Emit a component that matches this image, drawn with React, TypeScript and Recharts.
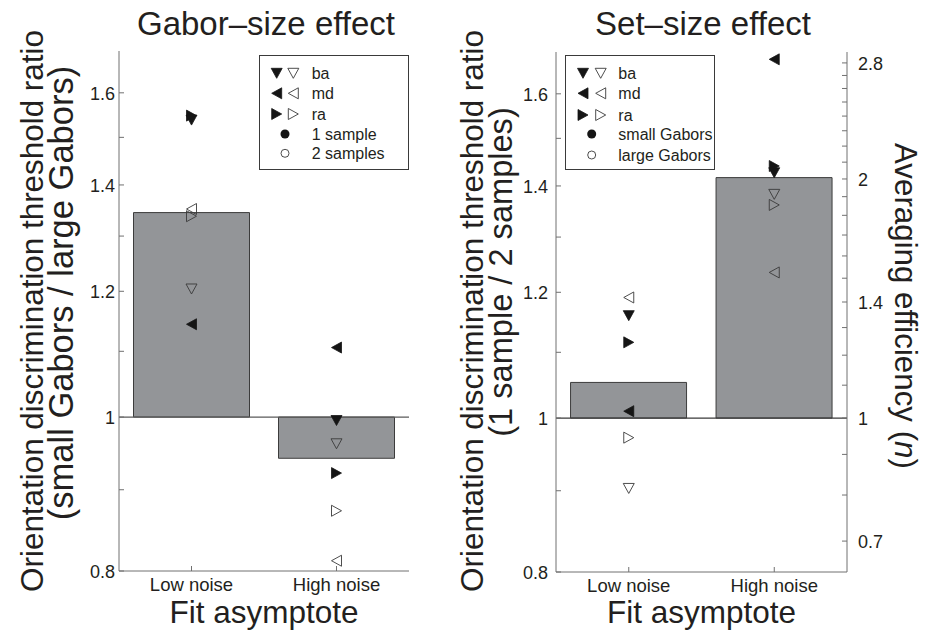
import React from 'react';
import { ComposedChart, Bar, Scatter, XAxis, YAxis, ReferenceLine, Legend } from 'recharts';

// ---------- data ----------
const categories = ['Low noise', 'High noise'];

// Gabor-size effect (ratio small / large Gabors); filled = 1 sample, open = 2 samples
const gaborBar = [1.345, 0.942];
const gaborBaFilled = [1.538, 0.995];
const gaborBaOpen = [1.204, 0.962];
const gaborMdFilled = [1.144, 1.106];
const gaborMdOpen = [1.352, 0.812];
const gaborRaFilled = [1.548, 0.922];
const gaborRaOpen = [1.338, 0.873];

// Set-size effect (ratio 1 sample / 2 samples); filled = small Gabors, open = large Gabors
const setBar = [1.053, 1.417];
const setBaFilled = [1.16, 1.427];
const setBaOpen = [0.903, 1.383];
const setMdFilled = [1.01, 1.682];
const setMdOpen = [1.191, 1.235];
const setRaFilled = [1.116, 1.441];
const setRaOpen = [0.972, 1.362];

const ratioTicks = [0.8, 0.9, 1, 1.1, 1.2, 1.3, 1.4, 1.5, 1.6];
const ratioLabels = [0.8, 1, 1.2, 1.4, 1.6];
const ratioDomain = [0.8, 1.7];
const effTicks = [0.7, 0.8, 0.9, 1, 1.1, 1.2, 1.3, 1.4, 1.5, 1.6, 1.7, 1.8, 1.9, 2, 2.1, 2.2, 2.3, 2.4, 2.5, 2.6, 2.7, 2.8];
const effLabels = [0.7, 1, 1.4, 2, 2.8];
const effDomain = [0.64, 2.89];

const gaborLegendLabels = ['ba', 'md', 'ra', '1 sample', '2 samples'];
const setLegendLabels = ['ba', 'md', 'ra', 'small Gabors', 'large Gabors'];

// ---------- style ----------
const AXIS = '#707070';
const INK = '#231f20';
const BAR_FILL = '#939598';
const BAR_STROKE = '#3c3c3c';
const FONT = '"Liberation Sans", Arial, Helvetica, sans-serif';

function buildRows(bar: number[], baF: number[], baO: number[], mdF: number[], mdO: number[], raF: number[], raO: number[]) {
  return categories.map((cat, i) => ({
    cat,
    bar: [Math.min(1, bar[i]), Math.max(1, bar[i])],
    baF: baF[i],
    baO: baO[i],
    mdF: mdF[i],
    mdO: mdO[i],
    raF: raF[i],
    raO: raO[i],
  }));
}

const gaborRows = buildRows(gaborBar, gaborBaFilled, gaborBaOpen, gaborMdFilled, gaborMdOpen, gaborRaFilled, gaborRaOpen);
const setRows = buildRows(setBar, setBaFilled, setBaOpen, setMdFilled, setMdOpen, setRaFilled, setRaOpen);

type Dir = 'down' | 'left' | 'right';

function Tri({ cx, cy, dir, filled }: { cx: number; cy: number; dir: Dir; filled: boolean }) {
  if (cx == null || cy == null || isNaN(cx) || isNaN(cy)) return null;
  const a = 5.5;
  const b = 5;
  let pts: number[][];
  if (dir === 'down') pts = [[cx - a, cy - b], [cx + a, cy - b], [cx, cy + b]];
  else if (dir === 'left') pts = [[cx - b, cy], [cx + b, cy - a], [cx + b, cy + a]];
  else pts = [[cx + b, cy], [cx - b, cy - a], [cx - b, cy + a]];
  return (
    <polygon
      points={pts.map((p) => p.join(',')).join(' ')}
      fill={filled ? '#151515' : 'none'}
      stroke={filled ? '#151515' : '#3a3a3a'}
      strokeWidth={filled ? 0.8 : 0.9}
    />
  );
}

const shapeOf = (dir: Dir, filled: boolean) => (p: any) => <Tri cx={p.cx} cy={p.cy} dir={dir} filled={filled} />;

function RatioTick(props: any) {
  const { x, y, payload, gap } = props;
  const v = payload.value;
  const major = ratioLabels.includes(v);
  return (
    <g>
      <line x1={x} x2={x + 5} y1={y} y2={y} stroke={AXIS} strokeWidth={1} />
      {major && (
        <text x={x - gap} y={y + 7} textAnchor="end" fontSize={18} fill={INK} fontFamily={FONT}>
          {String(v)}
        </text>
      )}
    </g>
  );
}

function EffTick(props: any) {
  const { x, y, payload } = props;
  const v = payload.value;
  const major = effLabels.includes(v);
  return (
    <g>
      <line x1={x} x2={x - 5} y1={y} y2={y} stroke={AXIS} strokeWidth={1} />
      {major && (
        <text x={x + 11} y={y + 7} textAnchor="start" fontSize={18} fill={INK} fontFamily={FONT}>
          {String(v)}
        </text>
      )}
    </g>
  );
}

function XTick(props: any) {
  const { x, y, payload } = props;
  return (
    <g>
      <line x1={x} x2={x} y1={y} y2={y - 5} stroke={AXIS} strokeWidth={1} />
      <text x={x} y={y + 19.5} textAnchor="middle" fontSize={18.5} fill={INK} fontFamily={FONT}>
        {payload.value}
      </text>
    </g>
  );
}

function LegendBox({ labels, width, height, rows, fx, ox, tx, cx }: { labels: string[]; width: number; height: number; rows: number[]; fx: number; ox: number; tx: number; cx: number }) {
  const dirs: Dir[] = ['down', 'left', 'right'];
  return (
    <svg width={width} height={height} style={{ display: 'block' }}>
      <rect x={0.5} y={0.5} width={width - 1} height={height - 1} fill="#ffffff" stroke="#3a3a3a" strokeWidth={1} />
      {dirs.map((d, i) => (
        <g key={d}>
          <Tri cx={fx} cy={rows[i]} dir={d} filled={true} />
          <Tri cx={ox} cy={rows[i]} dir={d} filled={false} />
        </g>
      ))}
      <circle cx={cx} cy={rows[3]} r={4.5} fill="#151515" />
      <circle cx={cx} cy={rows[4]} r={4} fill="none" stroke="#3a3a3a" strokeWidth={0.9} />
      {labels.map((l, i) => (
        <text key={l} x={tx} y={rows[i] + 6} fontSize={16} fill={INK} fontFamily={FONT}>
          {l}
        </text>
      ))}
    </svg>
  );
}

function scatterSet(yAxisId: string) {
  return [
    <Scatter key="baO" yAxisId={yAxisId} dataKey="baO" shape={shapeOf('down', false)} isAnimationActive={false} />,
    <Scatter key="mdO" yAxisId={yAxisId} dataKey="mdO" shape={shapeOf('left', false)} isAnimationActive={false} />,
    <Scatter key="raO" yAxisId={yAxisId} dataKey="raO" shape={shapeOf('right', false)} isAnimationActive={false} />,
    <Scatter key="baF" yAxisId={yAxisId} dataKey="baF" shape={shapeOf('down', true)} isAnimationActive={false} />,
    <Scatter key="mdF" yAxisId={yAxisId} dataKey="mdF" shape={shapeOf('left', true)} isAnimationActive={false} />,
    <Scatter key="raF" yAxisId={yAxisId} dataKey="raF" shape={shapeOf('right', true)} isAnimationActive={false} />,
  ];
}

export default function App() {
  return (
    <div style={{ position: 'absolute', left: 0, top: 0, width: 925, height: 633, background: '#ffffff', fontFamily: FONT }}>
      <div style={{ position: 'absolute', left: 0, top: 0 }}>
        <ComposedChart width={460} height={633} data={gaborRows} margin={{ top: 51, right: 51, bottom: 22, left: 0 }} barCategoryGap="10%">
          <XAxis dataKey="cat" type="category" height={40} tickSize={0} tickMargin={0} tickLine={false} tick={<XTick />} axisLine={{ stroke: AXIS }} interval={0} />
          <YAxis yAxisId="ratio" type="number" scale="log" domain={ratioDomain} allowDataOverflow ticks={ratioTicks} width={119} tickSize={0} tickMargin={0} tickLine={false} tick={<RatioTick gap={4} />} axisLine={{ stroke: AXIS }} interval={0} />
          <Bar yAxisId="ratio" dataKey="bar" fill={BAR_FILL} stroke={BAR_STROKE} strokeWidth={1} isAnimationActive={false} />
          <ReferenceLine yAxisId="ratio" y={1} stroke="#5a5a5a" strokeWidth={1.2} />
          {scatterSet('ratio')}
          <Legend
            verticalAlign="middle"
            align="center"
            layout="horizontal"
            wrapperStyle={{ left: 259, top: 55, width: 150, height: 115 }}
            content={() => <LegendBox labels={gaborLegendLabels} width={150} height={115} rows={[18.3, 38.3, 59, 79, 98.3]} fx={17.7} ox={34.3} tx={52.7} cx={26} />}
          />
        </ComposedChart>
      </div>
      <div style={{ position: 'absolute', left: 460, top: 0 }}>
        <ComposedChart width={465} height={633} data={setRows} margin={{ top: 52, right: 0, bottom: 21, left: 0 }} barCategoryGap="10%">
          <XAxis dataKey="cat" type="category" height={40} tickSize={0} tickMargin={0} tickLine={false} tick={<XTick />} axisLine={{ stroke: AXIS }} interval={0} />
          <YAxis yAxisId="ratio" type="number" scale="log" domain={ratioDomain} allowDataOverflow ticks={ratioTicks} width={96} tickSize={0} tickMargin={0} tickLine={false} tick={<RatioTick gap={8} />} axisLine={{ stroke: AXIS }} interval={0} />
          <YAxis yAxisId="eff" orientation="right" type="number" scale="log" domain={effDomain} allowDataOverflow ticks={effTicks} width={78} tickSize={0} tickMargin={0} tickLine={false} tick={<EffTick />} axisLine={{ stroke: AXIS }} interval={0} />
          <Bar yAxisId="ratio" dataKey="bar" fill={BAR_FILL} stroke={BAR_STROKE} strokeWidth={1} isAnimationActive={false} />
          <ReferenceLine yAxisId="ratio" y={1} stroke="#3a3a3a" strokeWidth={1.2} />
          {scatterSet('ratio')}
          <Legend
            verticalAlign="middle"
            align="center"
            layout="horizontal"
            wrapperStyle={{ left: 105, top: 55, width: 150, height: 115 }}
            content={() => <LegendBox labels={setLegendLabels} width={150} height={115} rows={[18.3, 38.3, 60, 79, 100]} fx={18} ox={35.7} tx={53.3} cx={26.7} />}
          />
        </ComposedChart>
      </div>
      <svg width={925} height={633} style={{ position: 'absolute', left: 0, top: 0, pointerEvents: 'none' }} fontFamily={FONT}>
        <text x={266} y={35} textAnchor="middle" fontSize={33} fill={INK}>Gabor–size effect</text>
        <text x={703} y={35} textAnchor="middle" fontSize={33} fill={INK}>Set–size effect</text>
        <text x={264} y={623} textAnchor="middle" fontSize={31.5} fill={INK}>Fit asymptote</text>
        <text x={701.5} y={623} textAnchor="middle" fontSize={31.5} fill={INK}>Fit asymptote</text>
        <text x={43} y={311} transform="rotate(-90 43 311)" textAnchor="middle" fontSize={31.4} fill={INK}>Orientation discrimination threshold ratio</text>
        <text x={73} y={293} transform="rotate(-90 73 293)" textAnchor="middle" fontSize={34.5} fill={INK}>(small Gabors / large Gabors)</text>
        <text x={483} y={311} transform="rotate(-90 483 311)" textAnchor="middle" fontSize={31.4} fill={INK}>Orientation discrimination threshold ratio</text>
        <text x={512} y={272} transform="rotate(-90 512 272)" textAnchor="middle" fontSize={32.6} fill={INK}>(1 sample / 2 samples)</text>
        <text x={895} y={306} transform="rotate(90 895 306)" textAnchor="middle" fontSize={31.3} fill={INK}>
          Averaging efficiency (<tspan fontStyle="italic">n</tspan>)
        </text>
      </svg>
    </div>
  );
}
